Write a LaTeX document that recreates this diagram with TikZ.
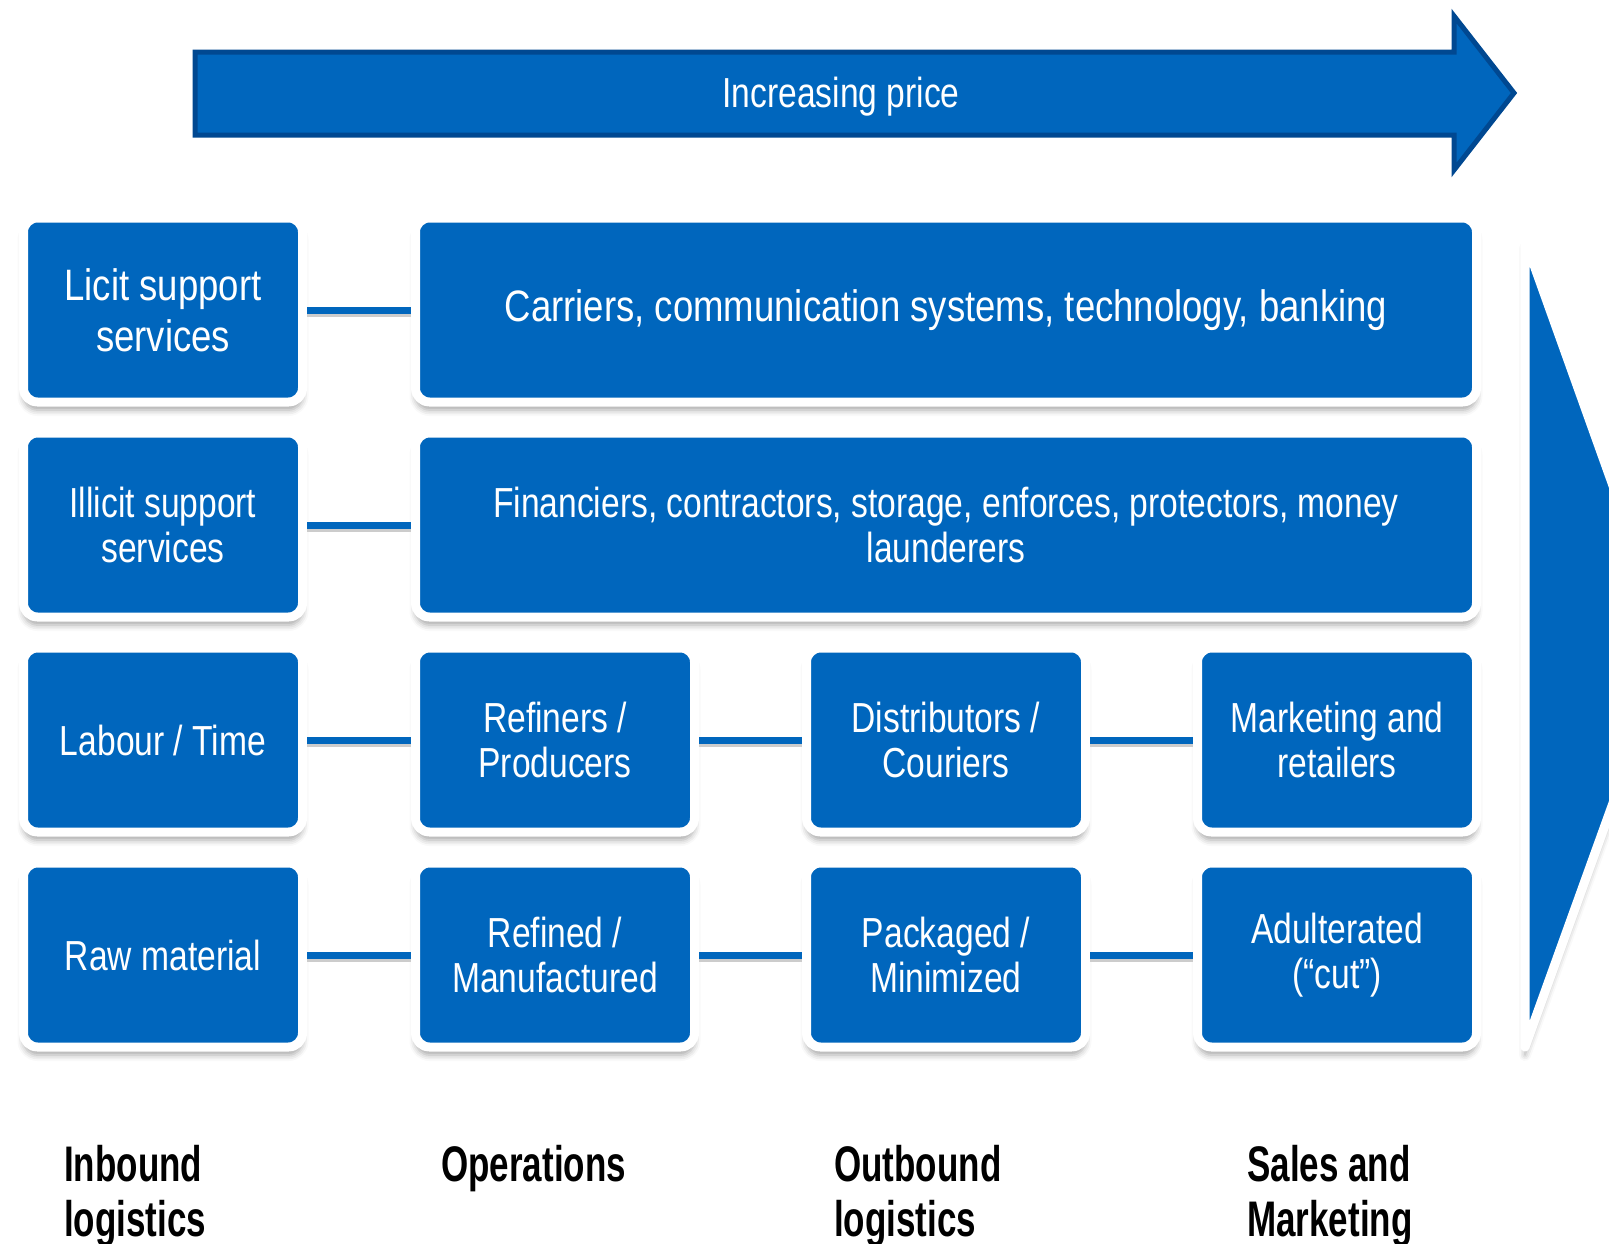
\documentclass[tikz,border=0pt]{standalone}
\usepackage{fontspec}
\setmainfont{Liberation Sans}
\newfontfamily\narrowfont[FakeStretch=0.8]{Liberation Sans}
\newfontfamily\widefont[FakeStretch=0.83]{Liberation Sans}
\newfontfamily\phasefont[FakeStretch=0.7]{Liberation Sans}
\usetikzlibrary{shadows.blur}
\definecolor{chainblue}{RGB}{0,102,189}
\definecolor{chaindark}{RGB}{0,72,145}
\begin{document}
\begin{tikzpicture}[x=1pt, y=-1pt,
		stage/.style={rectangle, rounded corners=14pt, fill=chainblue, draw=white, line width=9pt, minimum width=279pt, minimum height=184pt, inner sep=0pt, text=white, align=center, font=\narrowfont\fontsize{42}{45}\selectfont, blur shadow={shadow xshift=0pt, shadow yshift=-8pt, shadow blur radius=6pt, shadow opacity=35}},
		bigtext/.style={font=\widefont\fontsize{44}{51}\selectfont},
		widestage/.style={stage, minimum width=1061pt},
		link/.style={draw=chainblue, line width=7pt, preaction={draw=black!20, line width=7pt, transform canvas={yshift=-3pt}}},
		phase/.style={anchor=north west, inner sep=0pt, align=left, font=\phasefont\bfseries\fontsize{50}{55}\selectfont}]
		\useasboundingbox (0,0) rectangle (1609,1243);
		\clip (0,0) rectangle (1609,1243);
		\draw[fill=chainblue, draw=chaindark, line width=5pt] (195,52) -- (1454,52) -- (1454,16) -- (1514,93) -- (1454,170) -- (1454,135) -- (195,135) -- cycle;
		\node[text=white, font=\narrowfont\fontsize{42}{50}\selectfont] (price) at (841,97) {Increasing price};
		\draw[fill=chainblue, draw=white, line width=9pt, line join=round, blur shadow={shadow xshift=0pt, shadow yshift=-8pt, shadow blur radius=6pt, shadow opacity=35}] (1525,240) -- (1670,645) -- (1525,1047) -- cycle;
		\node[stage, bigtext] (licit) at (163,310) {Licit support\\services};
		\node[widestage, bigtext] (licitwide) at (946,310) {Carriers, communication systems, technology, banking};
		\node[stage] (illicit) at (163,525) {Illicit support\\services};
		\node[widestage] (illicitwide) at (946,525) {Financiers, contractors, storage, enforces, protectors, money\\launderers};
		\node[stage] (labour) at (163,740) {Labour / Time};
		\node[stage] (refiners) at (555,740) {Refiners /\\Producers};
		\node[stage] (distributors) at (946,740) {Distributors /\\Couriers};
		\node[stage] (retailers) at (1337,740) {Marketing and\\retailers};
		\node[stage] (raw) at (163,955) {Raw material};
		\node[stage] (refined) at (555,955) {Refined /\\Manufactured};
		\node[stage] (packaged) at (946,955) {Packaged /\\Minimized};
		\node[stage] (cut) at (1337,955) {Adulterated\\(“cut”)};
		\draw[link] (licit) -- (licitwide);
		\draw[link] (illicit) -- (illicitwide);
		\draw[link] (labour) -- (refiners);
		\draw[link] (refiners) -- (distributors);
		\draw[link] (distributors) -- (retailers);
		\draw[link] (raw) -- (refined);
		\draw[link] (refined) -- (packaged);
		\draw[link] (packaged) -- (cut);
		\node[phase] (inbound) at (64,1145) {Inbound\\logistics};
		\node[phase] (operations) at (441,1145) {Operations};
		\node[phase] (outbound) at (834,1145) {Outbound\\logistics};
		\node[phase] (sales) at (1247,1145) {Sales and\\Marketing};
	\end{tikzpicture}
\end{document}
